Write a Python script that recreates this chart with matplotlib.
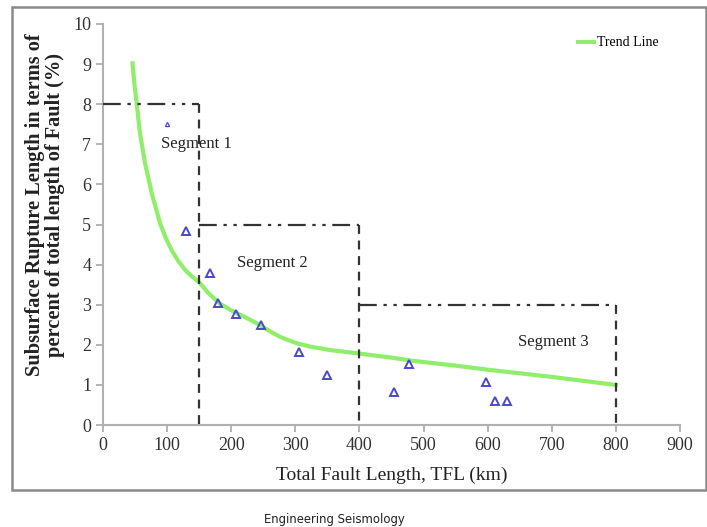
import matplotlib.pyplot as plt
from matplotlib.patches import Rectangle

# datos
tfl = [130, 167, 180, 208, 247, 305, 350, 454, 478, 597, 611, 630]
srl = [4.85, 3.8, 3.05, 2.78, 2.5, 1.83, 1.25, 0.82, 1.53, 1.07, 0.6, 0.6]
tfl_small = [100]
srl_small = [7.5]

trend_x = [46, 49, 52.5, 57.7, 65.5, 76, 89, 98, 107, 117, 128, 139, 150, 165, 182,
           200, 215, 230, 245, 260, 276, 290, 302, 325, 354, 380, 401, 450, 484,
           550, 600, 700, 800]
trend_y = [9.02, 8.5, 8.02, 7.27, 6.53, 5.78, 5.03, 4.66, 4.36, 4.1, 3.87, 3.7,
           3.56, 3.28, 3.03, 2.86, 2.74, 2.62, 2.49, 2.34, 2.2, 2.11, 2.04, 1.95,
           1.87, 1.82, 1.78, 1.68, 1.6, 1.48, 1.38, 1.2, 1.0]

# segmentos: (x inicio, x fin, altura)
segmentos = [(0, 150, 8), (150, 400, 5), (400, 800, 3)]
seg_labels = ["Segment 1", "Segment 2", "Segment 3"]
seg_pos = [(146, 7.0), (264, 4.04), (703, 2.08)]

plt.rcParams['font.family'] = ['Liberation Serif', 'DejaVu Serif']

fig = plt.figure(figsize=(7.07, 5.27), dpi=100)
ax = fig.add_axes([0.1457, 0.1935, 0.8161, 0.761])

# marco alrededor del grafico
fig.patches.append(Rectangle((12 / 707, 1 - 490 / 527), 694 / 707, 483 / 527,
                             transform=fig.transFigure, fill=False,
                             edgecolor='#8a8a8a', linewidth=1.8))

ax.plot(trend_x, trend_y, color='#8fee6a', linewidth=3, label='Trend Line', zorder=2)

for x0, x1, h in segmentos:
    ax.plot([x0, x1], [h, h], color='#333333', linewidth=1.6,
            dashes=(8, 3, 1.5, 3, 1.5, 3), zorder=3)
    ax.plot([x1, x1], [h, 0], color='#333333', linewidth=1.6,
            dashes=(4, 3), zorder=3)

ax.plot(tfl, srl, linestyle='none', marker='^', markersize=5.5,
        markerfacecolor='none', markeredgecolor='#4a4acc', markeredgewidth=1.4, zorder=4)
ax.plot(tfl_small, srl_small, linestyle='none', marker='^', markersize=3,
        markerfacecolor='none', markeredgecolor='#4a4acc', markeredgewidth=0.9, zorder=4)

for lab, (x, y) in zip(seg_labels, seg_pos):
    ax.text(x, y, lab, ha='center', va='center', fontsize=12, color='#222222')

ax.set_xlim(0, 900)
ax.set_ylim(0, 10)
ax.set_xticks(range(0, 901, 100))
ax.set_yticks(range(0, 11))
for s in ['top', 'right']:
    ax.spines[s].set_visible(False)
for s in ['left', 'bottom']:
    ax.spines[s].set_color('#b0b0b0')
    ax.spines[s].set_linewidth(1.5)
ax.tick_params(colors='#b0b0b0', labelcolor='#333333', labelsize=13,
               direction='out', length=5, width=1.3)

ax.set_xlabel('Total Fault Length, TFL (km)', fontsize=14, color='#222222', labelpad=9)
fig.text(45 / 707, 1 - 205 / 527,
         'Subsurface Rupture Length in terms of\npercent of total length of Fault (%)',
         rotation=90, ha='center', va='center', fontsize=14.7, fontweight='bold',
         color='#222222', linespacing=1.0)

leg = ax.legend(loc='upper right', bbox_to_anchor=(0.985, 1.0), frameon=False,
                fontsize=10, handlelength=1.2, handletextpad=0.2)

fig.text(334 / 707, 1 - 519 / 527, 'Engineering Seismology', ha='center', va='center',
         fontsize=8.4, family='DejaVu Sans', color='#222222')

plt.savefig('out.png', dpi=100)
